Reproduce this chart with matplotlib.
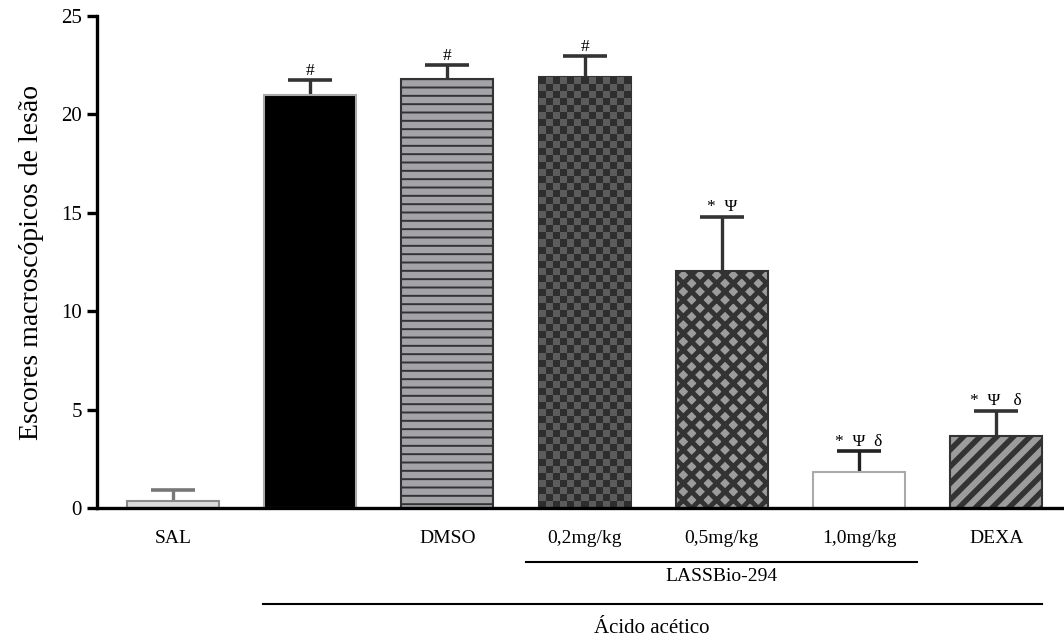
import numpy as np
import matplotlib
matplotlib.use('Agg')
import matplotlib.pyplot as plt
from matplotlib.transforms import blended_transform_factory

plt.rcParams['font.family'] = ['Liberation Serif', 'DejaVu Serif']

# data
groups = ['SAL', '', 'DMSO', '0,2mg/kg', '0,5mg/kg', '1,0mg/kg', 'DEXA']
means = [0.35, 21.0, 21.8, 21.9, 12.05, 1.85, 3.65]
sems = [0.55, 0.75, 0.7, 1.05, 2.75, 1.05, 1.3]
marks = ['', '#', '#', '#', '*  Ψ', '*  Ψ  δ', '*  Ψ   δ']
yticks = [0, 5, 10, 15, 20, 25]

# bar styles: (face, edge, hatch, hatch linewidth)
styles = [
    ('#dadada', '#8a8a8a', None, 1.0),
    ('#000000', '#a8a8a8', None, 1.0),
    ('#a3a3a8', '#333333', '--', 1.4),
    ('#333333', '#333333', None, 1.0),   # checkerboard drawn on top
    ('#9c9c9c', '#333333', 'xx', 3.5),
    ('#ffffff', '#aaaaaa', None, 1.0),
    ('#9c9c9c', '#333333', '//', 4.0),
]
err_colors = ['#777777', '#333333', '#333333', '#333333', '#333333', '#222222', '#333333']

fig = plt.figure(figsize=(10.64, 6.41), dpi=100)
ax = fig.add_axes([0.0912, 0.2075, 0.907, 0.7675])

x = np.arange(len(groups))
bars = []
for i in x:
    face, edge, hatch, hlw = styles[i]
    with plt.rc_context({'hatch.linewidth': hlw}):
        b = ax.bar(x[i], means[i], width=0.67, color=face, edgecolor=edge,
                   hatch=hatch, linewidth=1.5, zorder=3)
    bars.append(b[0])

ax.set_xlim(-0.553, 6.48)
ax.set_ylim(0, 25)

# checkerboard for the 0,2mg/kg bar
cb = bars[3]
x0, w, h = cb.get_x(), cb.get_width(), cb.get_height()
p0 = ax.transData.transform((x0, 0))
p1 = ax.transData.transform((x0 + w, h))
ncols = 13
nrows = int(round(ncols * abs(p1[1] - p0[1]) / abs(p1[0] - p0[0])))
board = (np.add.outer(np.arange(nrows), np.arange(ncols)) % 2).astype(float)
img = ax.imshow(board, extent=(x0, x0 + w, 0, h),
                cmap=matplotlib.colors.ListedColormap(['#2e2e2e', '#5c5c5c']),
                aspect='auto', interpolation='nearest', zorder=3.1)
img.set_clip_path(cb)
ax.set_aspect('auto')
ax.set_xlim(-0.553, 6.48)
ax.set_ylim(0, 25)

for i in x:
    eb = ax.errorbar(x[i], means[i], yerr=[[0], [sems[i]]], fmt='none', ecolor=err_colors[i],
                     elinewidth=2.4, capsize=16, capthick=2.6, zorder=2)
    # only keep the upper cap
    caps = eb[1]
    if len(caps) > 1:
        caps[0].set_visible(False)
    if marks[i]:
        ax.annotate(marks[i], (x[i], means[i] + sems[i]), xytext=(0, 1), textcoords='offset points',
                    ha='center', va='bottom', fontsize=12.5)

for s in ['top', 'right']:
    ax.spines[s].set_visible(False)
for s in ['left', 'bottom']:
    ax.spines[s].set_linewidth(2.4)
    ax.spines[s].set_zorder(4)

ax.set_yticks(yticks)
ax.set_yticklabels([str(v) for v in yticks], fontsize=15)
ax.tick_params(axis='y', length=7, width=2.4, pad=4)
ax.set_xticks(x)
ax.set_xticklabels(groups, fontsize=14)
ax.tick_params(axis='x', length=0, pad=16)
ax.set_ylabel('Escores macroscópicos de lesão', fontsize=20, labelpad=12)

# group lines under the axis
tr = blended_transform_factory(ax.transData, ax.transAxes)
ax.plot([2.575, 5.42], [-0.11, -0.11], color='black', linewidth=1.5, transform=tr, clip_on=False)
ax.text(4.0, -0.14, 'LASSBio-294', transform=tr, ha='center', va='center', fontsize=14)
ax.plot([0.655, 6.33], [-0.195, -0.195], color='black', linewidth=1.5, transform=tr, clip_on=False)
ax.text(3.49, -0.245, 'Ácido acético', transform=tr, ha='center', va='center', fontsize=15)

fig.savefig('out.png', dpi=100)
